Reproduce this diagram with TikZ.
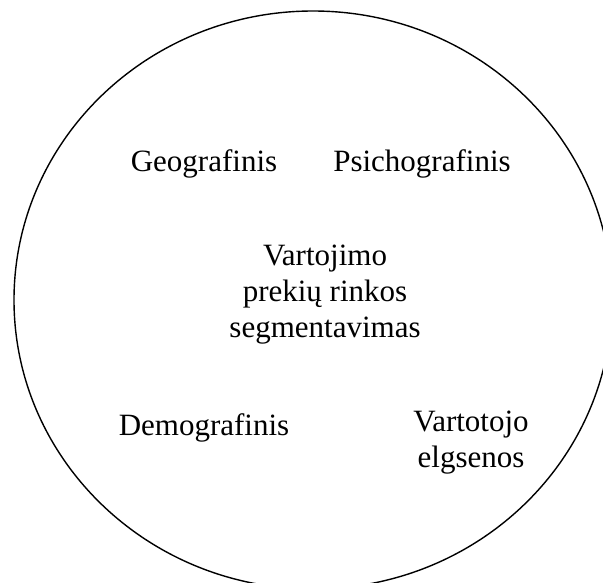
\documentclass[tikz,border=0pt]{standalone}
\usepackage{fontspec}
\setmainfont{Liberation Serif}
\tikzset{
  segtext/.style={font=\fontsize{31}{36}\selectfont,align=center,inner sep=0pt},
  ringline/.style={draw=black,line width=1.4pt}
}
\begin{document}
\begin{tikzpicture}[x=1pt,y=-1pt]
  \useasboundingbox (0,0) rectangle (603,583);
  % outer ring, runs off the right and bottom edge
  \draw[ringline] (313,300) ellipse [x radius=299, y radius=289];

  % top pair
  \node[segtext,anchor=base] (geo) at (204,172) {Geografinis};
  \node[segtext,anchor=base] (psy) at (422,172) {Psichografinis};

  % centre (base = last line)
  \node[segtext,anchor=base] (core) at (325,337)
    {Vartojimo\\prekių rinkos\\segmentavimas};

  % bottom pair
  \node[segtext,anchor=base] (demo) at (204,435) {Demografinis};
  \node[segtext,anchor=base] (behav) at (471,467) {Vartotojo\\elgsenos};
\end{tikzpicture}
\end{document}
